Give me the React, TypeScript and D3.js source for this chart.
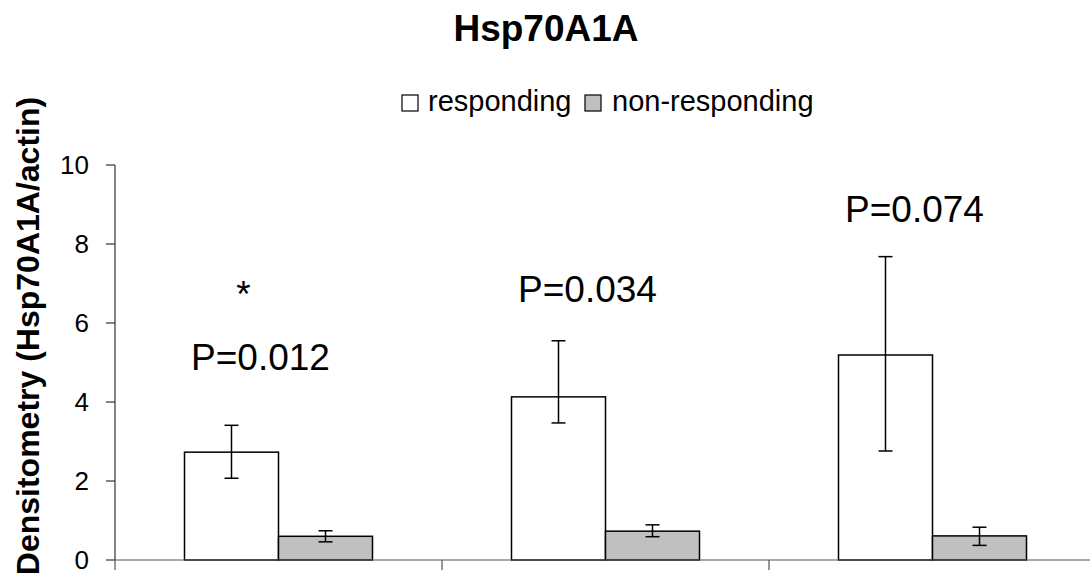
import React from "react";
import * as d3 from "d3";

// categories have no visible labels in the source
const groups = ["g1", "g2", "g3"];
const seriesNames = ["responding", "non-responding"];

const responding = [2.73, 4.13, 5.19];
const respondingHi = [3.41, 5.55, 7.68];
const respondingLo = [2.07, 3.47, 2.76];

const nonResponding = [0.6, 0.73, 0.61];
const nonRespondingHi = [0.74, 0.89, 0.83];
const nonRespondingLo = [0.46, 0.59, 0.37];

const yTicks = [0, 2, 4, 6, 8, 10];

// P-value notes, y in data units (baseline of the text)
const pLabels = ["P=0.012", "P=0.034", "P=0.074"];
const pLabelY = [4.81, 6.54, 8.56];
const starY = 6.4;

const W = 1090;
const H = 579;
const FONT = "'Liberation Sans', Arial, sans-serif";

export default function App() {
  const left = 115;
  const right = 1096;
  const top = 165;
  const bottom = 560;

  const x = d3.scaleBand<string>().domain(groups).range([left, right]);
  const y = d3.scaleLinear().domain([0, 10]).range([bottom, top]);
  const barW = 94;

  const series = [
    { name: seriesNames[0], vals: responding, hi: respondingHi, lo: respondingLo, fill: "#ffffff", dx: -barW },
    { name: seriesNames[1], vals: nonResponding, hi: nonRespondingHi, lo: nonRespondingLo, fill: "#c0c0c0", dx: 0 },
  ];

  const center = (g: string) => (x(g) ?? 0) + x.bandwidth() / 2;
  const cap = 7;

  return (
    <svg width={W} height={H} style={{ position: "absolute", left: 0, top: 0, background: "#fff" }} fontFamily={FONT}>
      {/* title */}
      <text x={546} y={41} textAnchor="middle" fontSize={37} fontWeight="bold">Hsp70A1A</text>

      {/* legend */}
      <g transform="translate(402,111)">
        <rect x={0} y={-16} width={16} height={16} fill="#fff" stroke="#000" strokeWidth={1.2} />
        <text x={26} y={0} fontSize={29}>{seriesNames[0]}</text>
        <rect x={183} y={-16} width={16} height={16} fill="#c0c0c0" stroke="#000" strokeWidth={1.2} />
        <text x={210} y={0} fontSize={29}>{seriesNames[1]}</text>
      </g>

      {/* y axis label */}
      <text transform={`translate(39,${336}) rotate(-90)`} textAnchor="middle" fontSize={32} fontWeight="bold">
        Densitometry (Hsp70A1A/actin)
      </text>

      {/* y axis */}
      <line x1={left} x2={left} y1={y(10)} y2={y(0)} stroke="#333" strokeWidth={1.2} />
      {yTicks.map(t => (
        <g key={t}>
          <line x1={left - 9} x2={left} y1={y(t)} y2={y(t)} stroke="#333" strokeWidth={1.2} />
          <text x={89} y={y(t)} dy="0.36em" textAnchor="end" fontSize={26}>{t}</text>
        </g>
      ))}

      {/* bars */}
      {series.map(s => (
        <g key={s.name}>
          {groups.map((g, i) => (
            <rect key={g} x={center(g) + s.dx} y={y(s.vals[i])} width={barW} height={y(0) - y(s.vals[i])}
              fill={s.fill} stroke="#000" strokeWidth={1.5} />
          ))}
        </g>
      ))}

      {/* error bars */}
      {series.map(s => (
        <g key={s.name + "-err"} stroke="#000" strokeWidth={1.5}>
          {groups.map((g, i) => {
            const cx = center(g) + s.dx + barW / 2;
            return (
              <g key={g}>
                <line x1={cx} x2={cx} y1={y(s.hi[i])} y2={y(s.lo[i])} />
                <line x1={cx - cap} x2={cx + cap} y1={y(s.hi[i])} y2={y(s.hi[i])} />
                <line x1={cx - cap} x2={cx + cap} y1={y(s.lo[i])} y2={y(s.lo[i])} />
              </g>
            );
          })}
        </g>
      ))}

      {/* x axis */}
      <line x1={left} x2={right} y1={y(0)} y2={y(0)} stroke="#555" strokeWidth={1.2} />
      {[...groups.map(g => x(g) ?? 0), right].map((tx, i) => (
        <line key={i} x1={tx} x2={tx} y1={y(0)} y2={y(0) + 10} stroke="#555" strokeWidth={1.2} />
      ))}

      {/* annotations */}
      <text x={center(groups[0]) - 35} y={y(starY)} textAnchor="middle" fontSize={37}>*</text>
      {pLabels.map((p, i) => (
        <text key={p} x={center(groups[i]) - 18} y={y(pLabelY[i])} textAnchor="middle" fontSize={37}>{p}</text>
      ))}
    </svg>
  );
}
